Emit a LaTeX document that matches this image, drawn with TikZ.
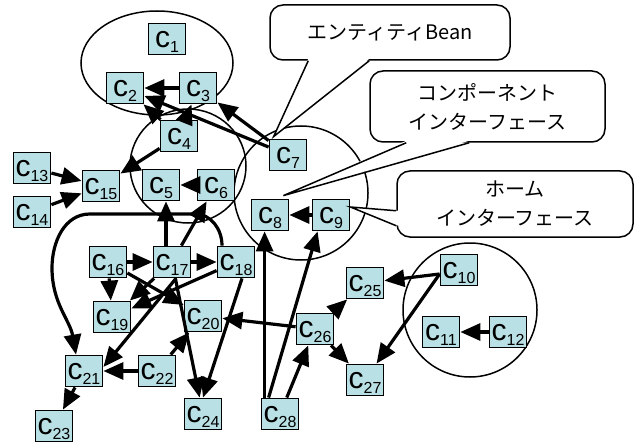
\documentclass[tikz,border=0pt]{standalone}
\usepackage{fontspec}
\setmainfont{Liberation Sans}
\newfontfamily\jpfont{Noto Sans CJK JP}
\usetikzlibrary{arrows.meta}
\definecolor{clsfill}{RGB}{185,224,228}
\newcommand{\csub}[1]{\raisebox{-2.5pt}{\fontsize{8}{8}\selectfont #1}}

\begin{document}
\begin{tikzpicture}[x=0.5pt,y=0.5pt]

\tikzset{cls/.style = {rectangle,draw,line width=0.9pt,fill=clsfill,minimum width=18.5pt,minimum height=15.5pt,inner sep=0pt,text height=11pt,text depth=2.2pt,font=\fontsize{15}{15}\selectfont}}
\tikzset{edge/.style = {-{Triangle[length=10pt,width=8.5pt]},line width=1.6pt}}
\tikzset{group/.style = {line width=0.75pt}}
\tikzset{note/.style = {draw,fill=white,rounded corners=6.5pt,line width=0.75pt,align=center,inner sep=0pt,font=\jpfont\fontsize{10}{14.5}\selectfont}}
\tikzset{pointer/.style = {line width=0.75pt,line join=miter}}

\useasboundingbox (0,0) rectangle (636,-443);

%groups
\draw[group] (157,-63) ellipse [x radius=76, y radius=52];
\draw[group] (188,-166) ellipse [x radius=58, y radius=57];
\draw[group] (301,-193) ellipse [x radius=67, y radius=67];
\draw[group] (470,-310) ellipse [x radius=67, y radius=67];

%classes
\node[cls] (c1) at (167,-39) {c\csub{1}};
\node[cls] (c2) at (125,-88) {c\csub{2}};
\node[cls] (c3) at (198,-88) {c\csub{3}};
\node[cls] (c4) at (179,-136) {c\csub{4}};
\node[cls] (c5) at (161,-185) {c\csub{5}};
\node[cls] (c6) at (216,-185) {c\csub{6}};
\node[cls] (c7) at (288,-155) {c\csub{7}};
\node[cls] (c8) at (270,-215) {c\csub{8}};
\node[cls] (c9) at (331,-215) {c\csub{9}};
\node[cls] (c10) at (459,-270) {c\csub{10}};
\node[cls] (c11) at (441,-332) {c\csub{11}};
\node[cls] (c12) at (508,-332) {c\csub{12}};
\node[cls] (c13) at (32,-168) {c\csub{13}};
\node[cls] (c14) at (32,-212) {c\csub{14}};
\node[cls] (c15) at (101,-186) {c\csub{15}};
\node[cls] (c16) at (108,-262) {c\csub{16}};
\node[cls] (c17) at (172,-262) {c\csub{17}};
\node[cls] (c18) at (236,-262) {c\csub{18}};
\node[cls] (c19) at (112,-317) {c\csub{19}};
\node[cls] (c20) at (203,-316) {c\csub{20}};
\node[cls] (c21) at (84,-371) {c\csub{21}};
\node[cls] (c22) at (157,-371) {c\csub{22}};
\node[cls] (c23) at (54,-426) {c\csub{23}};
\node[cls] (c24) at (203,-414) {c\csub{24}};
\node[cls] (c25) at (365,-283) {c\csub{25}};
\node[cls] (c26) at (315,-329) {c\csub{26}};
\node[cls] (c27) at (365,-380) {c\csub{27}};
\node[cls] (c28) at (280,-414) {c\csub{28}};

%dependencies
\draw[edge] (c3) -- (c2);
\draw[edge] (c7) -- (c2);
\draw[edge] (c7) -- (c3);
\draw[edge] (c4) -- (c2);
\draw[edge] (c4) -- (c3);
\draw[edge] (c4) -- (c15);
\draw[edge] (c13) -- (c15);
\draw[edge] (c14) -- (c15);
\draw[edge] (c6) -- (c5);
\draw[edge] ([xshift=-3pt]c17.north) -- ([xshift=-3pt]c17.north |- c5.south);
\draw[edge] (c17) -- (c6);
\draw[edge] (c9) -- (c8);
\draw[edge] ([xshift=2pt]c28.north west) -- ([xshift=2pt]c28.north west |- c8.south);
\draw[edge] ([xshift=4pt]c28.north west) -- ([xshift=3pt]c9.south west);
\draw[edge] (c28) -- (c26);
\draw[edge] (c16) -- (c17);
\draw[edge] (c17) -- (c18);
\draw[edge] (c16) -- (c19);
\draw[edge] (c16) -- (c20);
\draw[edge] (c17) -- (c19);
\draw[edge] (c18) -- (c19);
\draw[edge] ([xshift=2pt]c17.south) -- ([yshift=2pt]c21.east);
\draw[edge] (c17) -- (c24);
\draw[edge] ([xshift=3pt]c18.south) -- (c24.north);
\draw[edge] (c22) -- (c21);
\draw[edge] (c22) -- (c20);
\draw[edge] (c21) -- (c23);
\draw[edge] (c26) -- (c20);
\draw[edge] (c26) -- (c25);
\draw[edge] (c26) -- (c27);
\draw[edge] ([yshift=-2pt]c10.west) -- (c25);
\draw[edge] ([yshift=-2pt]c10.west) -- (c27);
\draw[edge] (c12) -- (c11);
\coordinate (bendA) at (195,-214);
\coordinate (bendB) at (90,-214);
\coordinate (bendC) at (52,-268);
\draw[edge] ([xshift=-7pt]c18.north) to[out=90,in=0] (bendA) -- (bendB)
  to[out=180,in=90] (bendC) to[out=-90,in=100] ([xshift=-4pt]c21.north);

%callouts
\node[note,minimum width=120pt,minimum height=27.5pt] (cb1) at (390,-32.5) {エンティティBean};
\node[note,minimum width=117.5pt,minimum height=35.5pt] (cb2) at (487.5,-106.5) {コンポーネント\\インターフェース};
\node[note,minimum width=118pt,minimum height=33pt] (cb3) at (515,-204) {ホーム\\インターフェース};
\coordinate (tip1) at ([xshift=2.5pt,yshift=1pt]c7.north west);
\coordinate (tip2) at ([xshift=-3pt,yshift=1.5pt]c8.north east);
\coordinate (tip3) at ([yshift=4pt]c9.east);
\fill[white] ([xshift=19.5pt,yshift=1pt]cb1.south west) -- (tip1) -- ([xshift=50pt,yshift=1pt]cb1.south west) -- cycle;
\draw[pointer] ([xshift=19.5pt]cb1.south west) -- (tip1) -- ([xshift=50pt]cb1.south west);
\fill[white] ([xshift=18.5pt,yshift=1pt]cb2.south west) -- (tip2) -- ([xshift=50pt,yshift=1pt]cb2.south west) -- cycle;
\draw[pointer] ([xshift=18.5pt]cb2.south west) -- (tip2) -- ([xshift=50pt]cb2.south west);
\fill[white] ([xshift=1pt,yshift=13.5pt]cb3.south west) -- (tip3) -- ([xshift=1pt,yshift=6pt]cb3.south west) -- cycle;
\draw[pointer] ([yshift=13.5pt]cb3.south west) -- (tip3) -- ([yshift=6pt]cb3.south west);

\end{tikzpicture}
\end{document}
